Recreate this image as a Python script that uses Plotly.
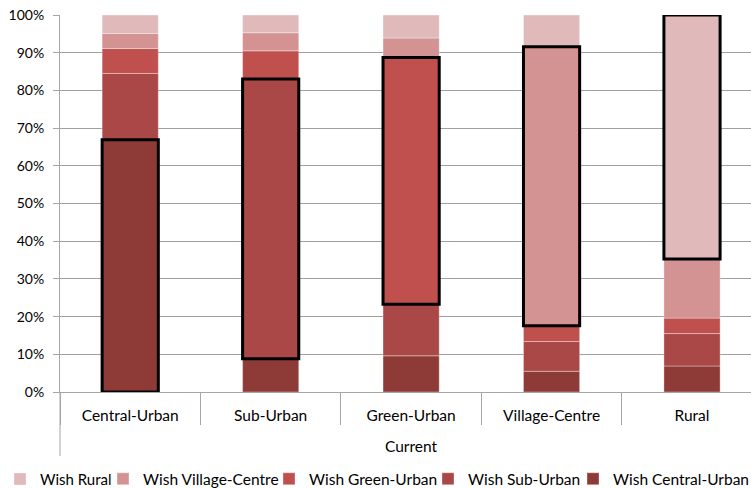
import plotly.graph_objects as go

categories = ["Central-Urban", "Sub-Urban", "Green-Urban", "Village-Centre", "Rural"]
series_names = ["Wish Central-Urban", "Wish Sub-Urban", "Wish Green-Urban",
                "Wish Village-Centre", "Wish Rural"]
wish_central_urban = [0.669, 0.088, 0.096, 0.055, 0.069]
wish_sub_urban = [0.176, 0.742, 0.137, 0.079, 0.086]
wish_green_urban = [0.066, 0.075, 0.654, 0.042, 0.041]
wish_village_centre = [0.040, 0.048, 0.052, 0.740, 0.157]
wish_rural = [0.049, 0.047, 0.061, 0.084, 0.647]
colors = ["#8e3b38", "#a94846", "#c0504d", "#d39393", "#e0baba"]

series = [wish_central_urban, wish_sub_urban, wish_green_urban,
          wish_village_centre, wish_rural]

FONT = "Lato"
W, H = 751, 488
fig = go.Figure()

bases = [[0.0] * len(categories)]
for vals in series[:-1]:
    bases.append([b + v for b, v in zip(bases[-1], vals)])

# one legend box per series so entries sit where the reference puts them
legend_ids = ["legend5", "legend4", "legend3", "legend2", "legend"]
legend_text_x = [613, 468, 309, 143, 40]   # pixel where each entry's text starts
legend_font = [15.5, 15.5, 15.5, 15.5, 15]

for name, vals, base, col, lid in zip(series_names, series, bases, colors, legend_ids):
    fig.add_trace(go.Bar(
        x=categories, y=vals, base=base, name=name, legend=lid,
        marker=dict(color=col, line=dict(color="rgba(255,255,255,0.45)", width=0.75)),
        width=0.4, hoverinfo="skip",
    ))

# highlight: segment where wish == current
hl_base = [bases[i][i] for i in range(len(categories))]
hl_val = [series[i][i] for i in range(len(categories))]
fig.add_trace(go.Bar(
    x=categories, y=hl_val, base=hl_base, showlegend=False,
    marker=dict(color="rgba(0,0,0,0)", line=dict(color="black", width=3)),
    width=0.4, hoverinfo="skip",
))

legend_layout = {}
for lid, tx, fs in zip(legend_ids, legend_text_x, legend_font):
    legend_layout[lid] = dict(
        orientation="h", xref="container", x=max(tx - 40, 0) / W, xanchor="left",
        yref="container", y=0.018, yanchor="middle",
        font=dict(size=fs), itemwidth=30, bgcolor="rgba(0,0,0,0)",
    )

fig.update_layout(
    width=W, height=H,
    margin=dict(l=60, r=0, t=15, b=96),
    barmode="overlay",
    plot_bgcolor="white", paper_bgcolor="white",
    font=dict(family=FONT, size=14, color="black"),
    showlegend=True,
    xaxis=dict(
        type="category", range=[-0.5, 4.42],
        showline=True, linecolor="#a6a6a6", linewidth=1,
        ticks="outside", tickson="boundaries", ticklen=32, tickcolor="#a6a6a6",
        ticklabelstandoff=9, tickfont=dict(size=15.5),
        showgrid=False,
    ),
    yaxis=dict(
        range=[0, 1], tickformat=".0%", dtick=0.1, tick0=0,
        showgrid=True, gridcolor="#a0a0a0", gridwidth=1,
        showline=True, linecolor="#a6a6a6", linewidth=1,
        ticks="outside", ticklen=6, tickcolor="#a6a6a6",
        ticklabelstandoff=6, zeroline=False,
    ),
    **legend_layout,
)

# outer category level line and label
fig.add_shape(type="line", xref="paper", yref="paper", x0=0, x1=0,
              y0=0, y1=-64 / 377, line=dict(color="#a6a6a6", width=1))
fig.add_annotation(x=2, xref="x", y=0, yref="paper", yshift=-54, yanchor="middle",
                   text="Current", showarrow=False, font=dict(size=15.5))

fig.write_html("out.html")
